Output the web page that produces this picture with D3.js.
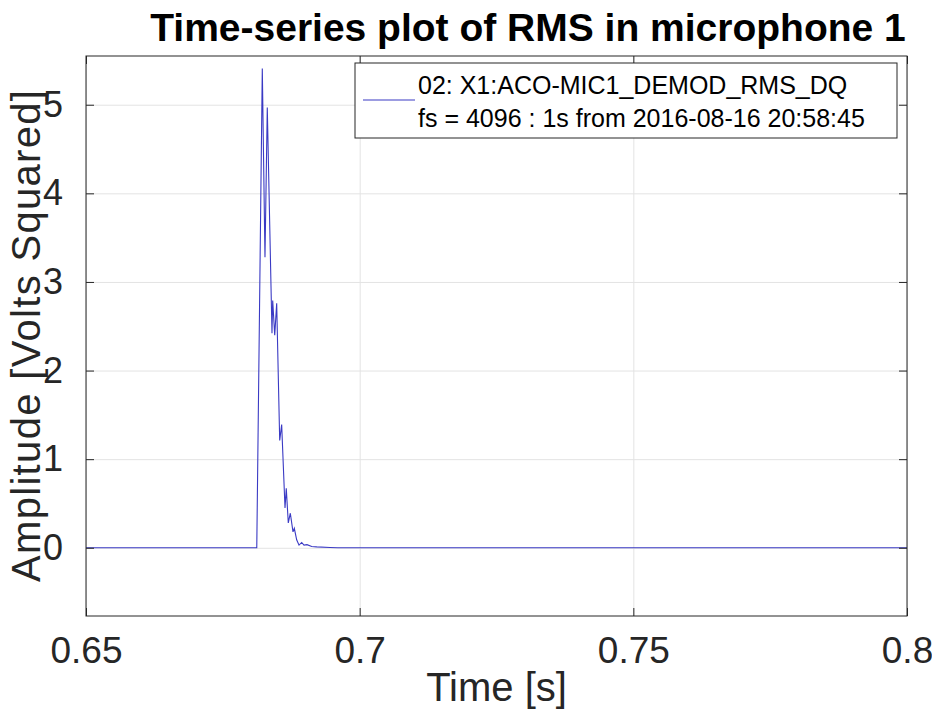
<!DOCTYPE html>
<html lang="en">
<head>
<meta charset="utf-8">
<title>Time-series plot of RMS in microphone 1</title>
<style>
  body { margin: 0; background: #fff; }
  text { font-family: "Liberation Sans", Arial, sans-serif; }
</style>
</head>
<body>
<script src="https://cdn.jsdelivr.net/npm/d3@7/dist/d3.min.js"></script>
<script>
  // data: time [s] and amplitude [V^2]
  var times = [0.65, 0.6812, 0.68221, 0.6827, 0.68312, 0.68398, 0.68411, 0.68448, 0.68484,
               0.68539, 0.68575, 0.68636, 0.68659, 0.68696, 0.68733, 0.68782, 0.68806,
               0.68849, 0.68892, 0.68941, 0.68983, 0.69038, 0.69124, 0.69215, 0.69458, 0.696, 0.8];
  var amps  = [0, 0, 5.41, 3.28, 4.97, 2.42, 2.79, 2.40, 2.76,
               1.21, 1.39, 0.45, 0.67, 0.28, 0.39, 0.18, 0.22,
               0.09, 0.03, 0.06, 0.03, 0.035, 0.015, 0.01, 0.003, 0, 0];
  var xTicks = [0.65, 0.7, 0.75, 0.8];
  var xTickLabels = ["0.65", "0.7", "0.75", "0.8"];
  var yTicks = [0, 1, 2, 3, 4, 5];
  var legendLines = ["02: X1:ACO-MIC1_DEMOD_RMS_DQ", "fs = 4096 : 1s from 2016-08-16 20:58:45"];

  var w = 932, h = 715;
  var margin = {top: 56, right: 25, bottom: 99, left: 86};
  var x0 = margin.left, x1 = w - margin.right, y0 = margin.top, y1 = h - margin.bottom;
  var axisColor = "#262626", gridColor = "#e3e3e3", lineColor = "#3a3ac4";

  var x = d3.scaleLinear().domain([0.65, 0.8]).range([x0, x1]);
  var y = d3.scaleLinear().domain([-0.77, 5.55]).range([y1, y0]);

  var svg = d3.select("body").append("svg").attr("width", w).attr("height", h);

  // grid
  svg.append("g")
    .attr("transform", `translate(0,${y1})`)
    .call(d3.axisBottom(x).tickValues(xTicks).tickSize(-(y1 - y0)).tickFormat(""))
    .call(g => g.select(".domain").remove())
    .call(g => g.selectAll("line").attr("stroke", gridColor));
  svg.append("g")
    .attr("transform", `translate(${x0},0)`)
    .call(d3.axisLeft(y).tickValues(yTicks).tickSize(-(x1 - x0)).tickFormat(""))
    .call(g => g.select(".domain").remove())
    .call(g => g.selectAll("line").attr("stroke", gridColor));

  // the signal
  var data = times.map(function(t, i) { return {t: t, v: amps[i]}; });
  var line = d3.line().x(d => x(d.t)).y(d => y(d.v));
  svg.append("path").datum(data)
    .attr("d", line)
    .attr("fill", "none")
    .attr("stroke", lineColor)
    .attr("stroke-width", 1.1);

  // axes with inward ticks, matlab style, mirrored on top and right
  var tk = 8;
  var axes = svg.append("g").attr("id", "axes");
  axes.append("g").attr("class", "lab").attr("transform", `translate(0,${y1})`)
    .call(d3.axisBottom(x).tickValues(xTicks).tickSize(-tk).tickSizeOuter(0).tickPadding(21)
      .tickFormat((d, i) => xTickLabels[i]));
  axes.append("g").attr("class", "lab ylab").attr("transform", `translate(${x0},0)`)
    .call(d3.axisLeft(y).tickValues(yTicks).tickSize(-tk).tickSizeOuter(0).tickPadding(23)
      .tickFormat(d => String(d)));
  axes.append("g").attr("transform", `translate(0,${y0})`)
    .call(d3.axisTop(x).tickValues(xTicks).tickSize(-tk).tickSizeOuter(0).tickFormat(""));
  axes.append("g").attr("transform", `translate(${x1},0)`)
    .call(d3.axisRight(y).tickValues(yTicks).tickSize(-tk).tickSizeOuter(0).tickFormat(""));
  axes.selectAll(".domain").remove();
  axes.selectAll(".tick line").attr("stroke", axisColor);
  axes.selectAll(".lab text").attr("font-size", 37).attr("fill", axisColor)
    .attr("font-family", "Liberation Sans, Arial, sans-serif");
  axes.selectAll(".ylab text").attr("font-size", 36);

  // box
  svg.append("rect").attr("x", x0).attr("y", y0).attr("width", x1 - x0).attr("height", y1 - y0)
    .attr("fill", "none").attr("stroke", axisColor).attr("stroke-width", 1);

  // labels
  svg.append("text").text("Time-series plot of RMS in microphone 1")
    .attr("x", 528).attr("y", 41).attr("text-anchor", "middle")
    .attr("font-size", 39).attr("font-weight", "bold").attr("fill", "#000");
  svg.append("text").text("Time [s]")
    .attr("x", (x0 + x1) / 2).attr("y", 701).attr("text-anchor", "middle")
    .attr("font-size", 40).attr("fill", axisColor);
  svg.append("text").text("Amplitude [Volts Squared]")
    .attr("transform", `translate(40,${(y0 + y1) / 2}) rotate(-90)`)
    .attr("text-anchor", "middle")
    .attr("font-size", 40).attr("textLength", 492).attr("lengthAdjust", "spacing")
    .attr("fill", axisColor);

  // legend
  var lg = svg.append("g");
  lg.append("rect").attr("x", 355).attr("y", 63).attr("width", 542).attr("height", 75)
    .attr("fill", "#fff").attr("stroke", axisColor).attr("stroke-width", 1);
  lg.append("line").attr("x1", 363).attr("x2", 415).attr("y1", 100).attr("y2", 100)
    .attr("stroke", lineColor).attr("stroke-width", 1.1);
  lg.selectAll("text.leg").data(legendLines).enter().append("text")
    .attr("class", "leg")
    .attr("x", 418).attr("y", (d, i) => 94 + i * 33)
    .attr("font-size", 25).attr("fill", "#000")
    .text(d => d);
</script>
</body>
</html>
